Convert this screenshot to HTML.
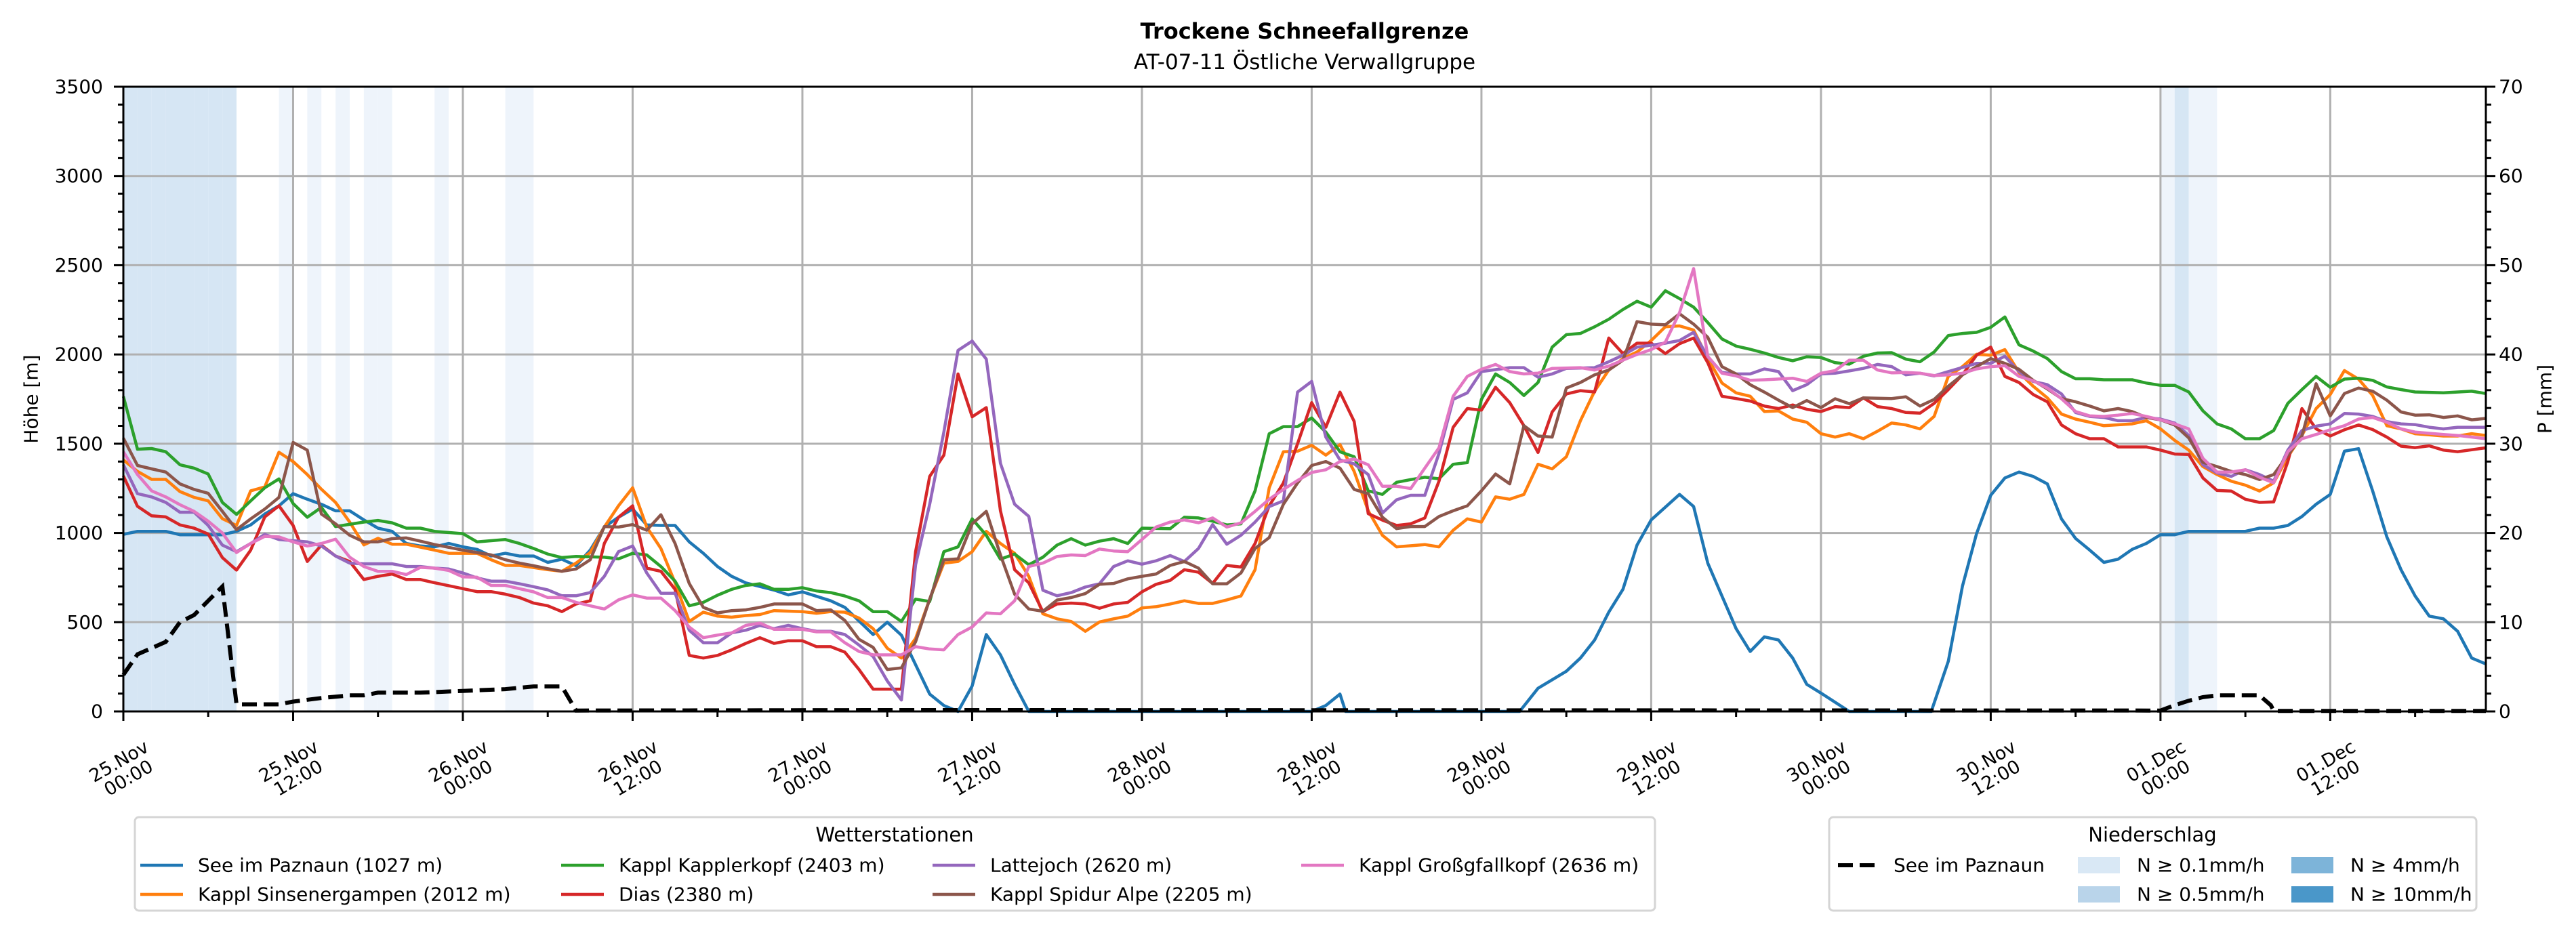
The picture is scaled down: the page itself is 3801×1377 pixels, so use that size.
<!DOCTYPE html>
<html><head><meta charset="utf-8"><title>Trockene Schneefallgrenze</title>
<style>
html,body{margin:0;padding:0;background:#fff;}
svg{display:block;font-family:"DejaVu Sans","Liberation Sans",sans-serif;}
</style></head>
<body>
<svg id="chart" xmlns="http://www.w3.org/2000/svg" width="3801" height="1377" viewBox="0 0 3801 1377">
<rect x="0" y="0" width="3801" height="1377" fill="#fff"/>
<text x="1925" y="57" text-anchor="middle" font-size="32" font-weight="bold">Trockene Schneefallgrenze</text>
<text x="1925" y="102" text-anchor="middle" font-size="31">AT-07-11 Östliche Verwallgruppe</text>
<g id="bands"></g>
<g id="grid"></g>
<g id="series"></g>
<g id="axes"></g>
<text transform="translate(46,589) rotate(-90)" text-anchor="middle" dominant-baseline="central" font-size="28">Höhe [m]</text>
<text transform="translate(3755,589) rotate(-90)" text-anchor="middle" dominant-baseline="central" font-size="28">P [mm]</text>
<g id="legend1">
<rect x="199" y="1206" width="2243" height="138" rx="6" fill="#fff" stroke="#d5d5d5" stroke-width="3"/>
<text x="1320" y="1242" text-anchor="middle" font-size="29">Wetterstationen</text>
</g>
<g id="legend2">
<rect x="2699" y="1206" width="955" height="138" rx="6" fill="#fff" stroke="#d5d5d5" stroke-width="3"/>
<text x="3176" y="1242" text-anchor="middle" font-size="29">Niederschlag</text>
</g>
</svg>
<script>
// ---------- data ----------
const tickLabels = ["25.Nov|00:00","25.Nov|12:00","26.Nov|00:00","26.Nov|12:00","27.Nov|00:00","27.Nov|12:00","28.Nov|00:00","28.Nov|12:00","29.Nov|00:00","29.Nov|12:00","30.Nov|00:00","30.Nov|12:00","01.Dec|00:00","01.Dec|12:00"];
const yTicks = [0,500,1000,1500,2000,2500,3000,3500];
const y2Ticks = [0,10,20,30,40,50,60,70];
const stationNames = ["See im Paznaun (1027 m)","Kappl Sinsenergampen (2012 m)","Kappl Kapplerkopf (2403 m)","Dias (2380 m)","Lattejoch (2620 m)","Kappl Spidur Alpe (2205 m)","Kappl Großgfallkopf (2636 m)"];
const seeParznaun = [[0,992],[1,1009],[3,1009],[4,990],[6,990],[7,990],[8,1009],[9,1045],[10,1106],[11,1152],[12,1220],[13,1189],[14,1161],[15,1124],[16,1124],[17,1073],[18,1027],[19,1009],[20,941],[21,927],[22,922],[23,941],[24,922],[25,908],[26,871],[27,886],[28,871],[29,871],[30,835],[31,853],[32,816],[33,904],[34,1033],[35,1088],[36,1134],[37,1045],[38,1042],[39,1042],[40,950],[41,886],[42,812],[43,757],[44,720],[46,680],[47,653],[48,670],[50,620],[51,583],[53,431],[54,500],[55,427],[57,97],[58,33],[59,0],[60,143],[61,431],[62,317],[63,152],[64,0],[84,0],[85,33],[86,97],[86.4,0],[98.7,0],[100,130],[102,225],[103,299],[104,400],[105,556],[106,684],[107,932],[108,1073],[110,1216],[111,1148],[112,831],[113,647],[114,464],[115,336],[116,418],[117,400],[118,299],[119,152],[120,103],[122,0],[127.8,0],[129,281],[130,702],[131,996],[132,1211],[133,1308],[134,1341],[135,1317],[136,1275],[137,1079],[138,969],[139,904],[140,835],[141,853],[142,908],[143,941],[144,990],[145,990],[146,1009],[150,1009],[151,1027],[152,1027],[153,1042],[154,1092],[155,1161],[156,1216],[157,1458],[158,1472],[159,1235],[160,978],[161,794],[162,647],[163,534],[164,519],[165,449],[166,299],[167,266]];
const sinsenergampen = [[0,1409],[1,1345],[2,1300],[3,1300],[4,1232],[5,1199],[6,1180],[7,1080],[8,1042],[9,1236],[10,1258],[11,1452],[12,1400],[13,1327],[14,1245],[15,1171],[16,1061],[17,933],[18,970],[19,937],[20,937],[22,904],[23,886],[25,886],[26,850],[27,818],[28,818],[30,794],[31,785],[32,831],[33,890],[34,1033],[35,1152],[36,1253],[37,1033],[38,913],[39,721],[40,504],[41,556],[42,534],[43,528],[44,537],[45,543],[46,565],[48,559],[49,550],[50,559],[51,556],[52,523],[53,464],[54,354],[55,299],[56,409],[57,629],[58,831],[59,840],[60,895],[61,1009],[62,941],[63,886],[64,757],[65,547],[66,519],[67,504],[68,449],[69,501],[70,519],[71,534],[72,580],[73,587],[74,602],[75,620],[76,605],[77,605],[78,625],[79,647],[80,794],[81,1253],[82,1455],[83,1458],[84,1491],[85,1436],[86,1495],[87,1345],[88,1124],[89,987],[90,922],[92,935],[93,922],[94,1015],[95,1079],[96,1061],[97,1202],[98,1189],[99,1216],[100,1385],[101,1359],[102,1427],[103,1629],[104,1794],[105,1913],[106,1977],[107,2014],[108,2078],[109,2155],[110,2160],[111,2137],[112,1977],[113,1840],[114,1785],[115,1766],[116,1680],[117,1684],[118,1638],[119,1620],[120,1556],[121,1537],[122,1556],[123,1528],[124,1570],[125,1616],[126,1605],[127,1583],[128,1653],[129,1877],[130,1932],[131,2001],[132,1996],[133,2027],[134,1899],[135,1822],[136,1757],[137,1666],[138,1638],[139,1620],[140,1601],[142,1611],[143,1629],[144,1583],[145,1519],[146,1464],[147,1372],[148,1327],[149,1290],[150,1268],[151,1235],[152,1281],[153,1427],[154,1546],[155,1697],[156,1776],[157,1910],[158,1862],[159,1770],[160,1601],[161,1583],[162,1556],[163,1550],[164,1543],[165,1543],[166,1556],[167,1546]];
const kapplerkopf = [[0,1765],[1,1469],[2,1473],[3,1455],[4,1382],[5,1363],[6,1330],[7,1171],[8,1104],[9,1180],[10,1253],[11,1303],[12,1165],[13,1088],[14,1143],[15,1036],[17,1061],[18,1070],[19,1057],[20,1027],[21,1027],[22,1009],[24,996],[25,950],[27,963],[28,941],[29,913],[30,882],[31,862],[32,868],[34,864],[35,855],[36,886],[37,877],[38,812],[39,730],[40,592],[41,611],[42,651],[43,684],[44,706],[45,715],[46,684],[47,684],[48,693],[49,675],[50,666],[51,647],[52,620],[53,559],[54,559],[55,504],[56,629],[57,616],[58,895],[59,922],[60,1079],[61,987],[62,853],[63,882],[64,822],[65,864],[66,932],[67,968],[68,932],[69,954],[70,968],[71,941],[72,1027],[74,1024],[75,1088],[76,1084],[77,1066],[78,1045],[79,1051],[80,1236],[81,1556],[82,1596],[83,1596],[84,1644],[85,1565],[86,1455],[87,1427],[88,1236],[89,1216],[90,1284],[91,1299],[92,1312],[93,1304],[94,1385],[95,1394],[96,1748],[97,1891],[98,1843],[99,1770],[100,1843],[101,2041],[102,2111],[103,2118],[104,2155],[105,2197],[106,2252],[107,2298],[108,2265],[109,2357],[110,2313],[111,2265],[112,2179],[113,2087],[114,2047],[115,2029],[116,2008],[117,1983],[118,1965],[119,1987],[120,1983],[121,1954],[122,1946],[123,1990],[124,2008],[125,2010],[126,1974],[127,1959],[128,2014],[129,2106],[130,2118],[131,2124],[132,2152],[133,2210],[134,2054],[135,2019],[136,1977],[137,1904],[138,1864],[139,1864],[140,1858],[142,1858],[143,1840],[144,1827],[145,1827],[146,1790],[147,1684],[148,1611],[149,1583],[150,1528],[151,1528],[152,1574],[153,1726],[154,1803],[155,1877],[156,1816],[157,1862],[158,1867],[159,1855],[160,1818],[161,1803],[162,1790],[164,1785],[166,1794],[167,1781]];
const dias = [[0,1320],[1,1149],[2,1096],[3,1090],[4,1045],[5,1027],[6,994],[7,862],[8,792],[9,904],[10,1090],[11,1152],[12,1042],[13,840],[14,932],[15,871],[16,840],[17,739],[18,757],[19,770],[20,739],[21,739],[22,721],[24,688],[25,671],[26,671],[27,657],[28,638],[29,607],[30,592],[31,559],[32,602],[33,620],[34,941],[35,1088],[36,1152],[37,803],[38,785],[39,684],[40,314],[41,299],[42,314],[43,345],[44,381],[45,413],[46,381],[47,396],[48,396],[49,363],[50,363],[51,332],[52,235],[53,125],[55,125],[56,895],[57,1317],[58,1436],[59,1891],[60,1651],[61,1702],[62,1124],[63,794],[64,721],[65,559],[66,602],[67,607],[68,602],[69,578],[70,602],[71,611],[72,670],[73,712],[74,734],[75,794],[76,780],[77,717],[78,818],[79,809],[80,941],[81,1152],[82,1280],[83,1500],[84,1730],[85,1592],[86,1789],[87,1625],[88,1108],[89,1072],[90,1042],[91,1051],[92,1084],[93,1290],[94,1592],[95,1697],[96,1688],[97,1816],[98,1730],[99,1601],[100,1451],[101,1678],[102,1779],[103,1797],[104,1790],[105,2092],[106,2005],[107,2063],[108,2063],[109,2005],[110,2060],[111,2092],[112,1954],[113,1766],[114,1753],[115,1739],[116,1711],[117,1697],[118,1717],[119,1693],[120,1680],[121,1708],[122,1702],[123,1757],[124,1708],[125,1697],[126,1675],[127,1671],[128,1726],[129,1803],[130,1886],[131,1996],[132,2041],[133,1877],[134,1843],[135,1776],[136,1735],[137,1605],[138,1556],[139,1528],[140,1528],[141,1482],[143,1482],[144,1464],[145,1442],[146,1440],[147,1308],[148,1238],[149,1235],[150,1189],[151,1171],[152,1174],[153,1400],[154,1697],[155,1583],[156,1543],[157,1578],[158,1605],[159,1579],[160,1537],[161,1486],[162,1478],[163,1488],[164,1464],[165,1455],[167,1477]];
const lattejoch = [[0,1382],[1,1220],[2,1202],[3,1171],[4,1116],[5,1116],[6,1042],[7,932],[8,895],[9,941],[10,992],[11,963],[13,950],[14,927],[15,871],[16,831],[17,827],[19,827],[20,812],[21,812],[22,803],[23,798],[24,776],[25,748],[26,730],[27,730],[28,715],[29,699],[30,681],[31,648],[32,648],[33,666],[34,757],[35,895],[36,927],[37,776],[38,662],[39,662],[40,455],[41,385],[42,385],[43,440],[44,455],[45,482],[46,464],[47,482],[48,464],[49,449],[50,449],[51,431],[52,372],[53,308],[54,171],[55,64],[56,822],[57,1161],[58,1565],[59,2023],[60,2075],[61,1974],[62,1390],[63,1161],[64,1093],[65,679],[66,648],[67,666],[68,697],[69,715],[70,812],[71,844],[72,825],[73,844],[74,873],[75,840],[76,913],[77,1047],[78,937],[79,987],[80,1061],[81,1148],[82,1180],[83,1789],[84,1849],[85,1537],[86,1409],[87,1387],[88,1327],[89,1111],[90,1186],[91,1211],[92,1211],[93,1446],[94,1748],[95,1785],[96,1904],[98,1926],[99,1926],[100,1873],[101,1891],[102,1922],[104,1926],[105,1959],[106,1996],[107,2041],[109,2063],[110,2078],[111,2124],[112,1987],[113,1899],[114,1891],[115,1891],[116,1919],[117,1904],[118,1797],[119,1831],[120,1891],[121,1895],[122,1908],[123,1922],[124,1944],[125,1932],[126,1886],[127,1895],[128,1880],[129,1904],[131,1950],[132,1950],[133,1990],[134,1904],[135,1849],[136,1831],[137,1779],[138,1675],[139,1653],[140,1647],[141,1629],[142,1629],[143,1647],[144,1638],[145,1616],[146,1546],[147,1382],[148,1336],[149,1317],[150,1354],[151,1327],[152,1290],[153,1464],[154,1574],[155,1598],[156,1611],[157,1669],[158,1666],[159,1653],[160,1624],[161,1611],[162,1607],[163,1592],[164,1583],[165,1592],[167,1592]];
const spidurAlpe = [[0,1531],[1,1378],[2,1359],[3,1341],[4,1275],[5,1244],[6,1222],[7,1121],[8,1018],[9,1079],[10,1134],[11,1199],[12,1507],[13,1464],[14,1106],[15,1051],[16,987],[17,950],[18,950],[19,968],[20,972],[21,954],[22,935],[24,904],[25,890],[26,877],[27,850],[28,831],[29,816],[30,800],[31,785],[32,798],[33,850],[34,1036],[35,1033],[36,1047],[37,1015],[38,1102],[39,941],[40,717],[41,583],[42,552],[43,565],[44,569],[45,583],[46,602],[48,602],[49,565],[50,569],[51,510],[52,404],[53,359],[54,235],[55,244],[56,391],[57,629],[58,849],[59,855],[60,1051],[61,1121],[62,877],[63,657],[64,574],[65,561],[66,624],[67,638],[68,660],[69,712],[70,717],[71,743],[72,757],[73,770],[74,818],[75,840],[76,803],[77,715],[78,715],[79,776],[80,913],[81,974],[82,1161],[83,1280],[84,1378],[85,1400],[86,1363],[87,1244],[88,1220],[89,1088],[90,1024],[91,1036],[92,1036],[93,1092],[94,1124],[95,1152],[96,1236],[97,1330],[98,1275],[99,1601],[100,1543],[101,1537],[102,1812],[103,1843],[104,1886],[105,1913],[106,1968],[107,2184],[108,2170],[109,2166],[110,2228],[111,2170],[112,2096],[113,1932],[114,1891],[115,1831],[116,1789],[117,1744],[118,1702],[119,1742],[120,1702],[121,1752],[122,1724],[123,1757],[125,1753],[126,1763],[127,1711],[128,1748],[129,1822],[130,1886],[131,1932],[132,1977],[133,1950],[134,1917],[135,1855],[136,1807],[137,1753],[138,1735],[139,1711],[140,1684],[141,1697],[142,1680],[143,1647],[144,1634],[145,1605],[146,1532],[147,1396],[148,1372],[149,1345],[150,1327],[151,1299],[152,1327],[153,1436],[154,1543],[155,1836],[156,1656],[157,1781],[158,1812],[159,1794],[160,1744],[161,1678],[162,1660],[163,1662],[164,1647],[165,1656],[166,1634],[167,1642]];
const grossgfallkopf = [[0,1455],[1,1327],[2,1236],[3,1202],[4,1158],[5,1121],[6,1066],[7,1000],[8,890],[9,941],[10,981],[11,978],[12,950],[13,927],[14,941],[15,965],[16,864],[17,812],[18,785],[19,785],[20,767],[21,807],[22,803],[23,790],[24,754],[25,752],[26,706],[27,706],[28,688],[29,670],[30,638],[31,638],[32,611],[33,592],[34,574],[35,625],[36,653],[37,635],[38,635],[39,565],[40,473],[41,413],[42,428],[43,440],[44,482],[45,495],[46,460],[48,460],[49,446],[50,446],[51,385],[52,336],[53,317],[55,317],[56,363],[57,350],[58,345],[59,431],[60,473],[61,552],[62,547],[63,620],[64,812],[65,831],[66,868],[67,877],[68,873],[69,910],[70,899],[71,895],[72,963],[73,1033],[74,1061],[75,1073],[76,1057],[77,1084],[78,1033],[79,1057],[80,1121],[81,1189],[82,1244],[83,1294],[84,1339],[85,1354],[86,1400],[87,1414],[88,1382],[89,1262],[90,1262],[91,1249],[92,1363],[93,1477],[94,1766],[95,1877],[96,1917],[97,1944],[98,1904],[99,1891],[100,1895],[101,1922],[103,1926],[104,1913],[105,1935],[106,1968],[107,2000],[108,2027],[109,2069],[110,2234],[111,2481],[112,1990],[113,1895],[114,1880],[115,1855],[116,1858],[118,1867],[119,1849],[120,1895],[121,1910],[122,1968],[123,1968],[124,1913],[125,1897],[126,1899],[127,1895],[128,1882],[129,1886],[130,1895],[131,1919],[132,1932],[133,1937],[134,1877],[135,1853],[136,1812],[137,1752],[138,1680],[139,1656],[140,1653],[141,1660],[142,1669],[143,1653],[144,1634],[145,1611],[146,1583],[147,1418],[148,1341],[149,1341],[150,1354],[151,1312],[152,1281],[153,1455],[154,1528],[155,1552],[156,1578],[157,1601],[158,1638],[159,1647],[160,1620],[161,1583],[162,1565],[164,1552],[165,1546],[167,1528]];
const precipSee = [[0,4.1],[1,6.4],[3,7.8],[4,10],[5,10.8],[6,12.4],[7,14],[8,0.8],[11,0.8],[12,1.1],[14,1.5],[16,1.8],[17,1.8],[18,2.1],[21,2.1],[24,2.3],[27,2.5],[29,2.8],[31,2.8],[32,0.1],[54,0.15],[60,0.15],[144,0.1],[145,0.7],[146,1.2],[147,1.6],[148,1.8],[151,1.8],[151.8,0.7],[152,0.05],[167,0.05]];
const bandHours = [0,1,2,3,4,5,6,7,11,13,15,17,18,22,27,28,144,145,146,147];
const bandLevels = [2,2,2,2,2,2,2,2,1,1,1,1,1,1,1,1,1,2,1,1];

// ---------- layout ----------
const L=182, R=3668, T=128, B=1050, HMAX=167;
const X = h => L + (R-L)*h/HMAX;
const Y = v => B - (B-T)*v/3500;
const Y2 = p => B - (B-T)*p/70;
const colors = ["#1f77b4","#ff7f0e","#2ca02c","#d62728","#9467bd","#8c564b","#e377c2"];
const bandColors = {1:"#eef4fb",2:"#d6e6f4"};
const NS="http://www.w3.org/2000/svg";
function mk(tag, attrs, parent){const e=document.createElementNS(NS,tag);for(const k in attrs)e.setAttribute(k,attrs[k]);parent.appendChild(e);return e;}

const gB=document.getElementById('bands');
bandHours.forEach((h,i)=>{
  const r=mk('rect',{x:X(h),y:T,width:X(h+1)-X(h),height:B-T,fill:bandColors[bandLevels[i]]},gB);
  
  
});

const gG=document.getElementById('grid');
for(let i=0;i<tickLabels.length;i++){
  const l=mk('line',{x1:X(i*12),x2:X(i*12),y1:T,y2:B,stroke:"#b0b0b0","stroke-width":3},gG);
  
  
}
yTicks.forEach(v=>{
  const l=mk('line',{x1:L,x2:R,y1:Y(v),y2:Y(v),stroke:"#b0b0b0","stroke-width":3},gG);
  
  
});

const gS=document.getElementById('series');
const allSeries=[seeParznaun,sinsenergampen,kapplerkopf,dias,lattejoch,spidurAlpe,grossgfallkopf];
const seriesKeys=["see-im-paznaun","kappl-sinsenergampen","kappl-kapplerkopf","dias","lattejoch","kappl-spidur-alpe","kappl-grossgfallkopf"];
allSeries.forEach((s,i)=>{
  const d=s.map((p,j)=>(j?'L':'M')+X(p[0]).toFixed(1)+' '+Y(p[1]).toFixed(1)).join(' ');
  const p=mk('path',{d:d,fill:"none",stroke:colors[i],"stroke-width":4.5,"stroke-linejoin":"round"},gS);
  
  
});
{
  const d=precipSee.map((p,j)=>(j?'L':'M')+X(p[0]).toFixed(1)+' '+Y2(p[1]).toFixed(1)).join(' ');
  const p=mk('path',{d:d,fill:"none",stroke:"#000","stroke-width":6,"stroke-dasharray":"22 10"},gS);
  
  
}

const gA=document.getElementById('axes');
const frame=mk('rect',{x:L,y:T,width:R-L,height:B-T,fill:"none",stroke:"#000","stroke-width":3},gA);


for(let h=0;h<=HMAX;h+=6){
  const major=h%12===0;
  const t=mk('line',{x1:X(h),x2:X(h),y1:B,y2:B+(major?14:8),stroke:"#000","stroke-width":3},gA);
  
  
}
tickLabels.forEach((lab,i)=>{
  const parts=lab.split('|');
  const g=mk('text',{transform:`translate(${X(i*12)},1135) rotate(-30)`,"text-anchor":"middle","font-size":27},gA);
  
  
  const a=mk('tspan',{x:0,dy:"-0.15em"},g);a.textContent=parts[0];
  const b=mk('tspan',{x:0,dy:"1.05em"},g);b.textContent=parts[1];
});
for(let v=0;v<=3500;v+=100){
  const major=v%500===0;
  const t=mk('line',{x1:L,x2:L-(major?14:8),y1:Y(v),y2:Y(v),stroke:"#000","stroke-width":3},gA);
  
  
}
yTicks.forEach(v=>{
  const t=mk('text',{x:152,y:Y(v),"text-anchor":"end","dominant-baseline":"central","font-size":28},gA);
  
  
  t.textContent=v;
});
for(let p=0;p<=70;p+=2){
  const major=p%10===0;
  const t=mk('line',{x1:R,x2:R+(major?14:8),y1:Y2(p),y2:Y2(p),stroke:"#000","stroke-width":3},gA);
  
  
}
y2Ticks.forEach(p=>{
  const t=mk('text',{x:3687,y:Y2(p),"text-anchor":"start","dominant-baseline":"central","font-size":28},gA);
  
  
  t.textContent=p;
});

// legends
const g1=document.getElementById('legend1');
const legPos=[[207,1277],[207,1320],[828,1277],[828,1320],[1376,1277],[1376,1320],[1920,1277]];
stationNames.forEach((n,i)=>{
  const [x,y]=legPos[i];
  const l=mk('line',{x1:x,x2:x+63,y1:y,y2:y,stroke:colors[i],"stroke-width":4.5},g1);
  
  
  const t=mk('text',{x:x+85,y:y,"dominant-baseline":"central","font-size":28},g1);
  
  
  t.textContent=n;
});
const g2=document.getElementById('legend2');
{
  const l=mk('line',{x1:2712,x2:2768,y1:1277,y2:1277,stroke:"#000","stroke-width":6,"stroke-dasharray":"22 10"},g2);
  
  
  const t=mk('text',{x:2794,y:1277,"dominant-baseline":"central","font-size":28},g2);
  
  
  t.textContent="See im Paznaun";
}
const patchLabels=["N ≥ 0.1mm/h","N ≥ 0.5mm/h","N ≥ 4mm/h","N ≥ 10mm/h"];
const patchColors=["#d9e8f5","#b9d4ea","#7db4d9","#4a97c9"];
const patchPos=[[3066,1277],[3066,1320],[3381,1277],[3381,1320]];
patchLabels.forEach((n,i)=>{
  const [x,y]=patchPos[i];
  const r=mk('rect',{x:x,y:y-12,width:62,height:24,fill:patchColors[i]},g2);
  
  
  const t=mk('text',{x:x+87,y:y,"dominant-baseline":"central","font-size":28},g2);
  
  
  t.textContent=n;
});
</script>
</body></html>
